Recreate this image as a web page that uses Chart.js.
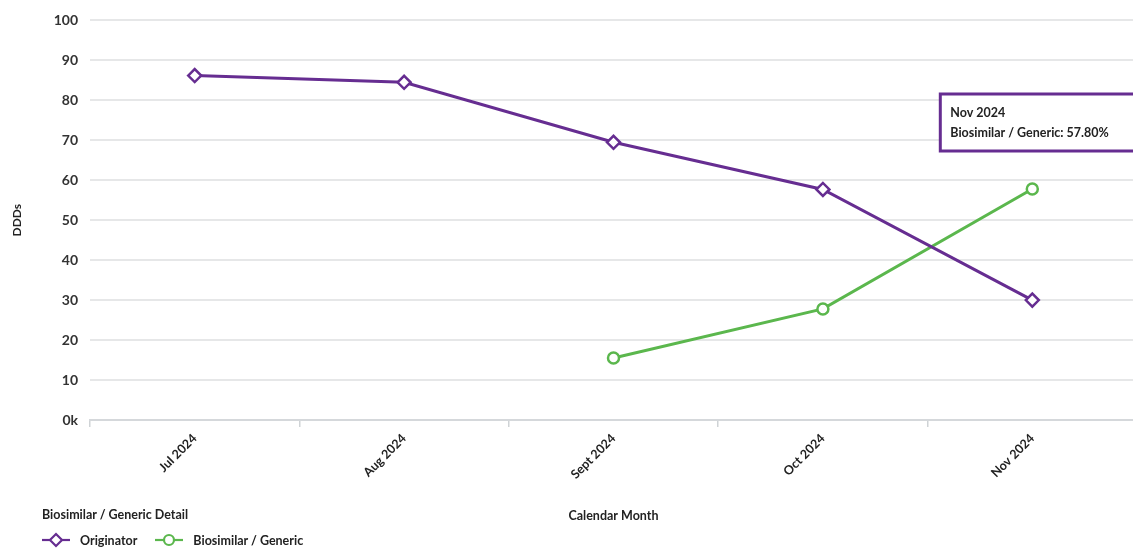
<!DOCTYPE html>
<html>
<head>
<meta charset="utf-8">
<script src="https://cdn.jsdelivr.net/npm/chart.js@4.4.1/dist/chart.umd.min.js"></script>
<style>
body{margin:0;background:#fff;font-family:Lato,"Open Sans",sans-serif;}
#wrap{position:relative;width:1133px;height:552px;overflow:hidden;}
#box{position:absolute;left:0;top:0;width:1146px;height:552px;}
#legend{position:absolute;left:42px;top:507px;font-size:12.5px;font-weight:700;color:#222;}
#legend .ttl{height:16px;line-height:16px;}
#legend .items{margin-top:9px;display:flex;align-items:center;}
#legend .it{display:flex;align-items:center;margin-right:18px;}
#legend svg{margin-right:10px;}
</style>
</head>
<body>
<div id="wrap">
  <div id="box"><canvas id="chart"></canvas></div>
  <div id="legend"></div>
</div>
<script>
const months=["Jul 2024","Aug 2024","Sept 2024","Oct 2024","Nov 2024"];
const originator=[86.2,84.5,69.5,57.7,30.0];
const biosimilar=[null,null,15.5,27.8,57.8];
const yTicks=[0,10,20,30,40,50,60,70,80,90,100];

const PURPLE="#662d91";
const GREEN="#5bb74d";
const FONT="Lato";

Chart.Tooltip.positioners.box=function(items){
    if(!items.length) return false;
    let el=items[0].element;
    return {x:el.x-92,y:el.y-95};
};

let ctx=document.getElementById("chart").getContext("2d");
let chart=new Chart(ctx,{
    type:"line",
    data:{
        labels:months,
        datasets:[
            {label:"Originator",data:originator,borderColor:PURPLE,backgroundColor:"#fff",
             borderWidth:3,pointStyle:"rectRot",pointRadius:6.5,pointBorderWidth:2.5,
             pointBackgroundColor:"#fff",pointBorderColor:PURPLE},
            {label:"Biosimilar / Generic",data:biosimilar,borderColor:GREEN,backgroundColor:"#fff",
             borderWidth:3,pointStyle:"circle",pointRadius:5.5,pointBorderWidth:2.5,
             pointBackgroundColor:"#fff",pointBorderColor:GREEN}
        ]
    },
    options:{
        responsive:true,
        maintainAspectRatio:false,
        animation:false,
        events:[],
        layout:{padding:{left:0,right:0,top:14,bottom:0}},
        plugins:{
            legend:{display:false},
            tooltip:{
                enabled:true,
                position:"box",
                xAlign:"left",
                yAlign:"top",
                caretSize:0,
                caretPadding:0,
                cornerRadius:0,
                backgroundColor:"#fff",
                borderColor:PURPLE,
                borderWidth:3,
                displayColors:false,
                titleColor:"#222",
                bodyColor:"#222",
                titleFont:{family:FONT,size:12.5,weight:"bold"},
                bodyFont:{family:FONT,size:12.5,weight:"bold"},
                titleMarginBottom:5,
                padding:{top:11,bottom:11,left:10,right:26},
                callbacks:{
                    label:(c)=>c.dataset.label+": "+c.parsed.y.toFixed(2)+"%"
                }
            }
        },
        scales:{
            x:{
                offset:true,
                grid:{display:true,offset:true,drawOnChartArea:false,drawTicks:true,tickLength:7,color:"#cfd3d6",lineWidth:1.5},
                border:{display:true,color:"#d5d8db",width:2},
                ticks:{minRotation:45,maxRotation:45,color:"#222",padding:4,font:{family:FONT,size:12.5,weight:"bold"}},
                title:{display:true,text:"Calendar Month",color:"#222",font:{family:FONT,size:12.5,weight:"bold"},padding:{top:4,bottom:29}},
                afterFit:(s)=>{s.height=132;}
            },
            y:{
                min:0,max:100,
                afterBuildTicks:(s)=>{s.ticks=yTicks.map(v=>({value:v}));},
                grid:{color:"#e6e7e8",lineWidth:2,drawTicks:false},
                border:{display:false},
                ticks:{padding:12,color:"#333",font:{family:FONT,size:14,weight:"bold"},
                       callback:(v)=>v===0?"0k":v},
                title:{display:true,text:"DDDs",color:"#222",font:{family:FONT,size:12,weight:"bold"},padding:{top:10}},
                afterFit:(s)=>{s.width=90;}
            }
        }
    }
});

chart.tooltip.setActiveElements([{datasetIndex:1,index:4}],{x:0,y:0});
chart.update();

// legend
function icon(shape,color){
    let m=shape==="diamond"
        ?'<polygon points="14,2 20,8 14,14 8,8" fill="#fff" stroke="'+color+'" stroke-width="2.2"/>'
        :'<circle cx="14" cy="8" r="5" fill="#fff" stroke="'+color+'" stroke-width="2.2"/>';
    return '<svg width="28" height="16"><line x1="0" y1="8" x2="28" y2="8" stroke="'+color+'" stroke-width="2.2"/>'+m+'</svg>';
}
document.getElementById("legend").innerHTML=
    '<div class="ttl">Biosimilar / Generic Detail</div>'+
    '<div class="items">'+
    '<div class="it">'+icon("diamond",PURPLE)+'<span>Originator</span></div>'+
    '<div class="it">'+icon("circle",GREEN)+'<span>Biosimilar / Generic</span></div>'+
    '</div>';
</script>
</body>
</html>
